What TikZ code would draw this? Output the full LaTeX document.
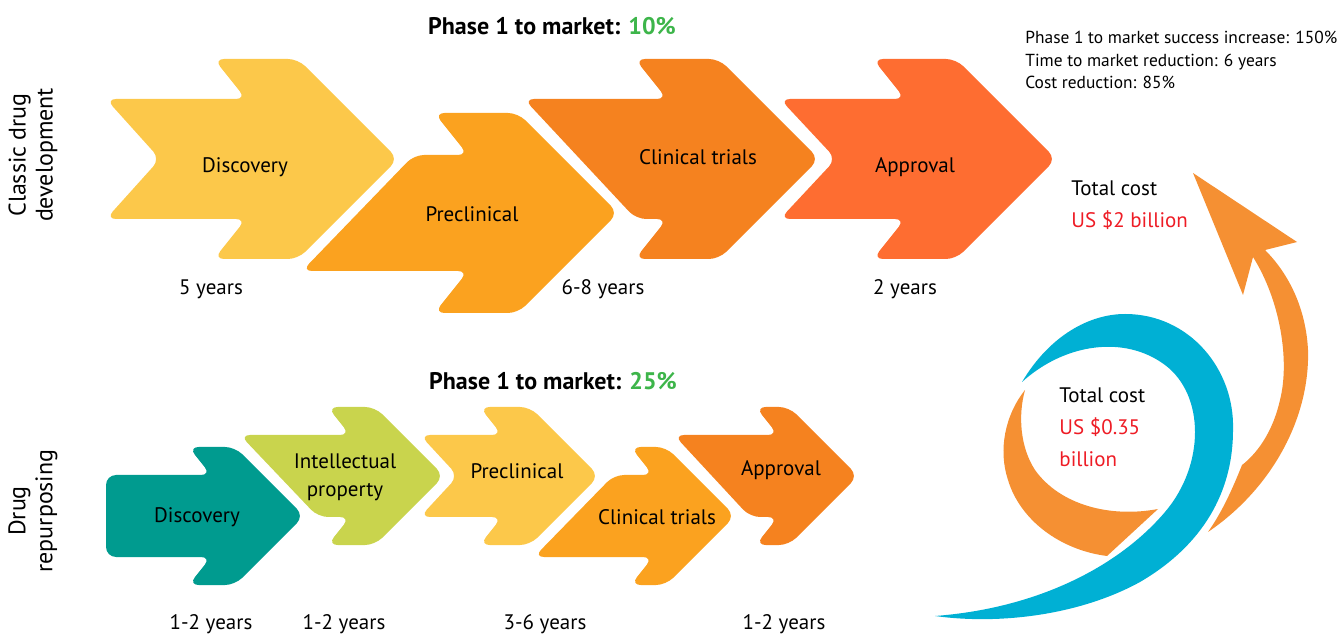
\documentclass[tikz,border=0pt]{standalone}
\usepackage{fontspec}
\setmainfont{PT Sans}
\usetikzlibrary{positioning}

\definecolor{yellowA}{HTML}{FCC84A}
\definecolor{orangeA}{HTML}{FBA21F}
\definecolor{orangeB}{HTML}{F5821F}
\definecolor{orangeC}{HTML}{FE6D31}
\definecolor{tealA}{HTML}{009B8F}
\definecolor{limeA}{HTML}{C9D44D}
\definecolor{swirlblue}{HTML}{00B0D4}
\definecolor{swirlorange}{HTML}{F59033}
\definecolor{rategreen}{HTML}{3DB54A}
\definecolor{costred}{HTML}{EE1C25}

% head of a stage arrow: #1 head back x, #2 centre y, #3 tip x, #4 shaft half height, #5 head half height
\newcommand\headpart[5]{-- ({#1},{#2-#4}) -- ({#1-0.8*(#5-#4)},{#2-#5}) -- ({#3-#5},{#2-#5})
  -- ({#3},{#2}) -- ({#3-#5},{#2+#5}) -- ({#1-0.8*(#5-#4)},{#2+#5}) -- ({#1},{#2+#4})}

\tikzset{
  stagearrow/.style={rounded corners=5pt},
  stage/.style={inner sep=0pt, align=center, font=\fontsize{10.5}{14}\selectfont},
  years/.style={inner sep=0pt, font=\fontsize{10.5}{13}\selectfont},
  rate/.style={inner sep=0pt, font=\fontsize{12}{14}\selectfont\bfseries},
  side/.style={inner sep=0pt, align=center, rotate=90, font=\fontsize{12}{13.5}\selectfont},
  cost/.style={inner sep=0pt, align=left, anchor=north west, font=\fontsize{10.5}{16}\selectfont},
  gain/.style={inner sep=0pt, align=left, anchor=north west, font=\fontsize{8.7}{11.2}\selectfont},
}

\begin{document}
\begin{tikzpicture}[x=0.5pt,y=-0.5pt]
\useasboundingbox (0,0) rectangle (1343,635);

% classic pipeline
\fill[yellowA,stagearrow] (106,99) \headpart{246}{159}{398}{60}{100} -- (106,219) -- (160,159) -- cycle;
\fill[orangeA,stagearrow] (414,155) \headpart{468}{213}{618}{58}{100} -- (302,271) -- cycle;
\fill[orangeB,stagearrow] (524,99) \headpart{667}{159}{819}{60}{100} -- (636,219) -- cycle;
\fill[orangeC,stagearrow] (780,99) \headpart{905}{159}{1056}{60}{100} -- (780,219) -- (836,159) -- cycle;

% repurposing pipeline
\fill[tealA,stagearrow] (106,475) \headpart{211}{516}{304}{41}{69} -- (106,557) -- cycle;
\fill[limeA,stagearrow] (240,435) \headpart{350}{476}{444}{41}{69} -- (318,517) -- cycle;
\fill[yellowA,stagearrow] (420,435) \headpart{502}{476}{599}{41}{69} -- (420,517) -- (458,476) -- cycle;
\fill[orangeA,stagearrow] (614,475) \headpart{653}{516}{735}{41}{69} -- (534,557) -- cycle;
\fill[orangeB,stagearrow] (674,435) \headpart{778}{476}{858}{41}{69} -- (750,517) -- cycle;

% swirl
\fill[swirlblue] (1022,382) .. controls (1050,335) and (1090,314) .. (1125,314)
  .. controls (1190,314) and (1235,370) .. (1233,430)
  .. controls (1233,500) and (1195,550) .. (1140,582)
  .. controls (1080,615) and (1000,625) .. (935,616)
  .. controls (1040,608) and (1120,565) .. (1165,512)
  .. controls (1205,465) and (1205,395) .. (1165,365)
  .. controls (1125,335) and (1065,343) .. (1022,382) -- cycle;
\fill[swirlorange] (1025,390) .. controls (1005,415) and (998,450) .. (1008,480)
  .. controls (1020,520) and (1060,550) .. (1107,556) -- (1158,509)
  .. controls (1110,518) and (1060,505) .. (1035,470)
  .. controls (1020,447) and (1018,415) .. (1025,390) -- cycle;
\fill[swirlorange] (1208,532) .. controls (1270,490) and (1310,420) .. (1308,350)
  .. controls (1306,310) and (1290,275) .. (1265,250)
  -- (1297,242) -- (1193,173) -- (1243,295) -- (1253,257)
  .. controls (1280,300) and (1290,360) .. (1280,400)
  .. controls (1272,435) and (1255,455) .. (1242,465)
  .. controls (1232,490) and (1222,512) .. (1208,532) -- cycle;

% labels
\node[rate] (rateA) at (552,26) {Phase 1 to market: \textcolor{rategreen}{10\%}};
\node[rate] (rateB) at (553,381) {Phase 1 to market: \textcolor{rategreen}{25\%}};
\node[side] (classic) at (33,155) {Classic drug\\development};
\node[side] (repurp) at (33,511) {Drug\\repurposing};

\node[stage] (discA) at (245,167) {Discovery};
\node[stage] (precA) at (472,214) {Preclinical};
\node[stage] (clinA) at (698,157) {Clinical trials};
\node[stage] (apprA) at (915,167) {Approval};

\node[stage] (discB) at (197,517) {Discovery};
\node[stage] (ipB) at (345,477) {Intellectual\\property};
\node[stage] (precB) at (517,471) {Preclinical};
\node[stage] (clinB) at (657,517) {Clinical trials};
\node[stage] (apprB) at (781,470) {Approval};

\node[years] (yA1) at (211,289) {5 years};
\node[years] (yA2) at (603,289) {6-8 years};
\node[years] (yA3) at (905,289) {2 years};
\node[years] (yB1) at (211,624) {1-2 years};
\node[years] (yB2) at (344,624) {1-2 years};
\node[years] (yB3) at (545,624) {3-6 years};
\node[years] (yB4) at (784,624) {1-2 years};

\node[gain] (gains) at (1025,31) {Phase 1 to market success increase: 150\%\\Time to market reduction: 6 years\\Cost reduction: 85\%};
\node[cost] (costA) at (1071,180) {Total cost\\\textcolor{costred}{US \$2 billion}};
\node[cost] (costB) at (1059,387) {Total cost\\\textcolor{costred}{US \$0.35}\\\textcolor{costred}{billion}};
\end{tikzpicture}
\end{document}
